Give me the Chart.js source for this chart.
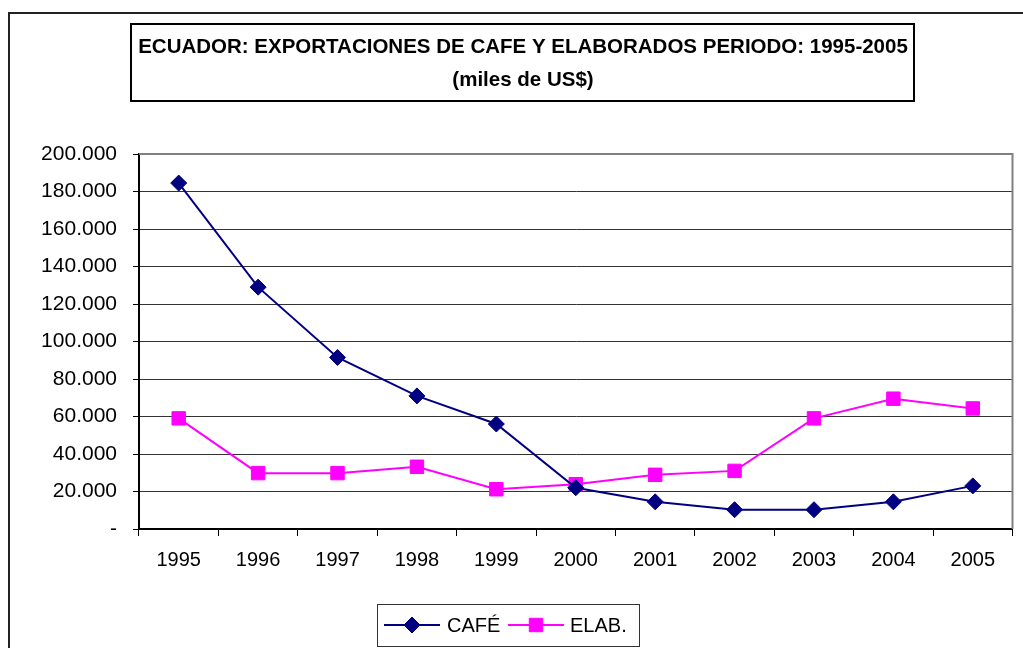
<!DOCTYPE html>
<html>
<head>
<meta charset="utf-8">
<script src="https://cdn.jsdelivr.net/npm/chart.js@4/dist/chart.umd.min.js"></script>
<style>
html,body{margin:0;padding:0;background:#fff;}
#wrap{position:relative;width:1023px;height:648px;}
</style>
</head>
<body>
<div id="wrap"><canvas id="c" width="1023" height="648"></canvas></div>
<script>
const years = ['1995','1996','1997','1998','1999','2000','2001','2002','2003','2004','2005'];
const cafe = [184500, 129000, 91500, 71000, 56000, 22000, 14500, 10300, 10300, 14500, 23000];
const elab = [59000, 29800, 29800, 33200, 21200, 23900, 28900, 31000, 59000, 69500, 64300];
const titleLines = ['ECUADOR: EXPORTACIONES DE CAFE Y ELABORADOS PERIODO: 1995-2005', '(miles de US$)'];
const seriesNames = ['CAFÉ', 'ELAB.'];
const yMin = 0, yMax = 200000, yStep = 20000;

const FONT = '"Liberation Sans", Arial, sans-serif';

function fmt(v){
  if (v === 0) return '-';
  return String(v).replace(/\B(?=(\d{3})+(?!\d))/g, '.');
}

const decor = {
  id: 'decor',
  beforeDraw(chart){
    const ctx = chart.ctx;
    ctx.save();
    ctx.fillStyle = '#fff';
    ctx.fillRect(0,0,chart.width,chart.height);
    // outer frame
    ctx.strokeStyle = '#222';
    ctx.lineWidth = 2;
    ctx.beginPath();
    ctx.moveTo(9, chart.height + 2);
    ctx.lineTo(9, 13);
    ctx.lineTo(chart.width + 2, 13);
    ctx.stroke();
    // title box
    ctx.lineWidth = 2;
    ctx.strokeStyle = '#000';
    ctx.strokeRect(131, 24, 783, 77);
    ctx.fillStyle = '#000';
    ctx.font = 'bold 20.5px ' + FONT;
    ctx.textAlign = 'center';
    ctx.textBaseline = 'middle';
    ctx.fillText(titleLines[0], 523, 47);
    ctx.fillText(titleLines[1], 523, 80);
    ctx.restore();
  },
  afterDatasetsDraw(chart){
    const ctx = chart.ctx;
    const a = chart.chartArea;
    ctx.save();
    // top & right plot border
    ctx.strokeStyle = '#808080';
    ctx.lineWidth = 2;
    ctx.beginPath();
    ctx.moveTo(a.left, a.top);
    ctx.lineTo(a.right, a.top);
    ctx.lineTo(a.right, a.bottom);
    ctx.stroke();
    // legend
    const lx = 377, ly = 604, lw = 262, lh = 42;
    ctx.fillStyle = '#fff';
    ctx.fillRect(lx, ly, lw, lh);
    ctx.strokeStyle = '#333';
    ctx.lineWidth = 1;
    ctx.strokeRect(lx + 0.5, ly + 0.5, lw, lh);
    const cy = ly + lh/2;
    const items = [{x0: 384, x1: 440, tx: 447}, {x0: 508, x1: 564, tx: 570}];
    chart.data.datasets.forEach((ds, i) => {
      const it = items[i];
      ctx.strokeStyle = ds.borderColor;
      ctx.lineWidth = 2;
      ctx.beginPath();
      ctx.moveTo(it.x0, cy);
      ctx.lineTo(it.x1, cy);
      ctx.stroke();
      ctx.fillStyle = ds.pointBackgroundColor;
      ctx.strokeStyle = ds.borderColor;
      ctx.lineWidth = 1;
      Chart.helpers.drawPoint(ctx, {pointStyle: ds.pointStyle, rotation: 0, borderWidth: 1, radius: ds.pointRadius}, (it.x0 + it.x1)/2, cy);
      ctx.fillStyle = '#000';
      ctx.font = '20px ' + FONT;
      ctx.textAlign = 'left';
      ctx.textBaseline = 'middle';
      ctx.fillText(ds.label, it.tx, cy + 1);
    });
    ctx.restore();
  }
};

new Chart(document.getElementById('c'), {
  type: 'line',
  data: {
    labels: years,
    datasets: [
      {
        label: seriesNames[0],
        data: cafe,
        borderColor: '#000080',
        backgroundColor: '#000080',
        pointBackgroundColor: '#000080',
        pointBorderColor: '#000080',
        borderWidth: 2,
        pointStyle: 'rectRot',
        pointRadius: 8,
        pointBorderWidth: 1,
        tension: 0
      },
      {
        label: seriesNames[1],
        data: elab,
        borderColor: '#FF00FF',
        backgroundColor: '#FF00FF',
        pointBackgroundColor: '#FF00FF',
        pointBorderColor: '#FF00FF',
        borderWidth: 2,
        pointStyle: 'rect',
        pointRadius: 9.5,
        pointBorderWidth: 1,
        tension: 0
      }
    ]
  },
  options: {
    responsive: false,
    animation: false,
    devicePixelRatio: 1,
    layout: { padding: { left: 0, top: 154, right: 4, bottom: 0 } },
    plugins: {
      legend: { display: false },
      title: { display: false },
      tooltip: { enabled: false }
    },
    scales: {
      x: {
        offset: true,
        afterFit(s){ s.height = 119; },
        grid: {
          offset: true,
          drawOnChartArea: false,
          drawTicks: true,
          tickLength: 7,
          color: '#000',
          lineWidth: 1
        },
        border: { display: true, color: '#000', width: 2 },
        ticks: {
          color: '#000',
          font: { family: FONT, size: 20 },
          padding: 12,
          maxRotation: 0,
          autoSkip: false
        }
      },
      y: {
        min: yMin,
        max: yMax,
        afterFit(s){ s.width = 139; },
        grid: {
          color: '#333',
          lineWidth: 1,
          drawTicks: true,
          tickLength: 6,
          tickColor: '#000'
        },
        border: { display: true, color: '#000', width: 2 },
        ticks: {
          stepSize: yStep,
          color: '#000',
          font: { family: FONT, size: 21 },
          padding: 16,
          callback: (v) => fmt(v)
        }
      }
    }
  },
  plugins: [decor]
});
</script>
</body>
</html>
